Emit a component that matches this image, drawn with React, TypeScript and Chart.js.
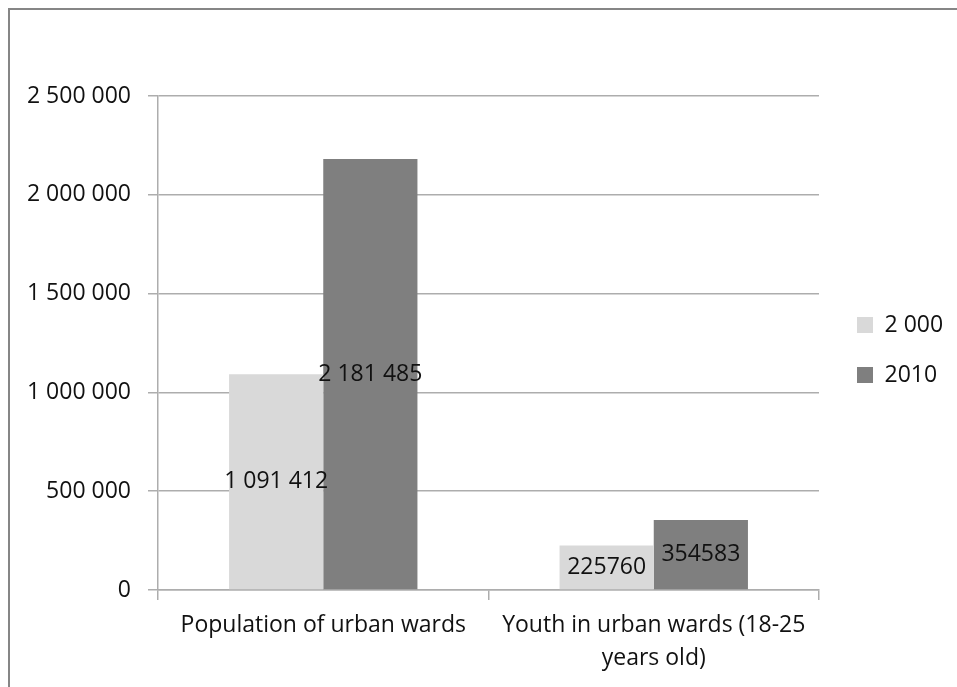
import { useEffect, useRef } from 'react';
import { Chart, registerables } from 'chart.js';

Chart.register(...registerables);

// Chart data
const categories = [['Population of urban wards'], ['Youth in urban wards (18-25', 'years old)']];
const seriesNames = ['2 000', '2010'];
const values2000 = [1091412, 225760];
const values2010 = [2181485, 354583];
// whether the value labels of a category use digit grouping
const groupedValueLabels = [true, false];
const yTickValues = [0, 500000, 1000000, 1500000, 2000000, 2500000];

const seriesColors = ['#d9d9d9', '#7f7f7f'];
const TEXT = '#111111';
const GRID = '#adadad';
const FAMILY = "'Open Sans', sans-serif";
const FONT_SIZE = 23;

const spaced = (v: number) => String(Math.round(v)).replace(/\B(?=(\d{3})+(?!\d))/g, ' ');

// Writes each bar's value at the middle of the bar
const barValueLabels = {
  id: 'barValueLabels',
  afterDatasetsDraw(chart: any) {
    const ctx = chart.ctx as CanvasRenderingContext2D;
    ctx.save();
    ctx.font = `${FONT_SIZE}px ${FAMILY}`;
    ctx.fillStyle = TEXT;
    ctx.textAlign = 'center';
    ctx.textBaseline = 'middle';
    chart.data.datasets.forEach((ds: any, di: number) => {
      const meta = chart.getDatasetMeta(di);
      meta.data.forEach((bar: any, i: number) => {
        const { x, y } = bar.getCenterPoint();
        const v = ds.data[i] as number;
        ctx.fillText(groupedValueLabels[i] ? spaced(v) : String(v), x, y);
      });
    });
    ctx.restore();
  },
};

function UrbanWardsChart() {
  const canvasRef = useRef<HTMLCanvasElement | null>(null);

  useEffect(() => {
    const canvas = canvasRef.current;
    if (!canvas) return;
    const chart = new Chart(canvas, {
      type: 'bar',
      data: {
        labels: categories,
        datasets: [
          {
            label: seriesNames[0],
            data: values2000,
            backgroundColor: seriesColors[0],
            borderWidth: 0,
            categoryPercentage: 0.57,
            barPercentage: 1,
          },
          {
            label: seriesNames[1],
            data: values2010,
            backgroundColor: seriesColors[1],
            borderWidth: 0,
            categoryPercentage: 0.57,
            barPercentage: 1,
          },
        ],
      },
      options: {
        responsive: false,
        animation: false,
        devicePixelRatio: 1,
        events: [],
        layout: { padding: { left: 0, top: 0, right: 12, bottom: 0 } },
        scales: {
          x: {
            type: 'category',
            offset: true,
            grid: {
              display: true,
              offset: true,
              drawOnChartArea: false,
              drawTicks: true,
              tickLength: 10,
              color: GRID,
              lineWidth: 1.5,
            },
            border: { display: true, color: GRID, width: 1.5 },
            ticks: {
              color: TEXT,
              font: { family: FAMILY, size: FONT_SIZE, lineHeight: 1.43 },
              padding: 9,
              maxRotation: 0,
              autoSkip: false,
            },
            afterFit: (s: any) => {
              s.height = 100;
            },
          },
          y: {
            type: 'linear',
            position: 'left',
            min: yTickValues[0],
            max: yTickValues[yTickValues.length - 1],
            grid: { color: GRID, lineWidth: 1.5, tickLength: 10 },
            border: { display: true, color: GRID, width: 1.5 },
            ticks: {
              stepSize: yTickValues[1] - yTickValues[0],
              padding: 17,
              color: TEXT,
              font: { family: FAMILY, size: FONT_SIZE },
              callback: (v: any) => spaced(Number(v)),
            },
            afterFit: (s: any) => {
              s.width = 148;
            },
          },
          // empty strip between the plot and the legend
          legendGap: {
            type: 'linear',
            position: 'right',
            display: true,
            grid: { display: false, drawTicks: false },
            border: { display: false },
            ticks: { display: false },
            afterFit: (s: any) => {
              s.width = 11;
            },
          },
        },
        plugins: {
          title: {
            display: true,
            text: '',
            padding: { top: 85, bottom: 0 },
            font: { size: 1, lineHeight: 1 },
          },
          legend: {
            display: true,
            position: 'right',
            align: 'center',
            maxWidth: 115,
            labels: {
              boxWidth: 16,
              boxHeight: 16,
              padding: 27,
              color: TEXT,
              font: { family: FAMILY, size: FONT_SIZE },
            },
          },
          tooltip: { enabled: false },
        },
      } as any,
      plugins: [barValueLabels],
    });
    return () => chart.destroy();
  }, []);

  return (
    <div
      style={{
        position: 'fixed',
        left: 8,
        top: 8,
        width: 949,
        height: 679,
        boxSizing: 'border-box',
        borderTop: '2px solid #868686',
        borderLeft: '2px solid #868686',
        overflow: 'hidden',
        background: '#ffffff',
      }}
    >
      <canvas ref={canvasRef} width={947} height={680} style={{ display: 'block' }} />
    </div>
  );
}

export default function App() {
  return <UrbanWardsChart />;
}
